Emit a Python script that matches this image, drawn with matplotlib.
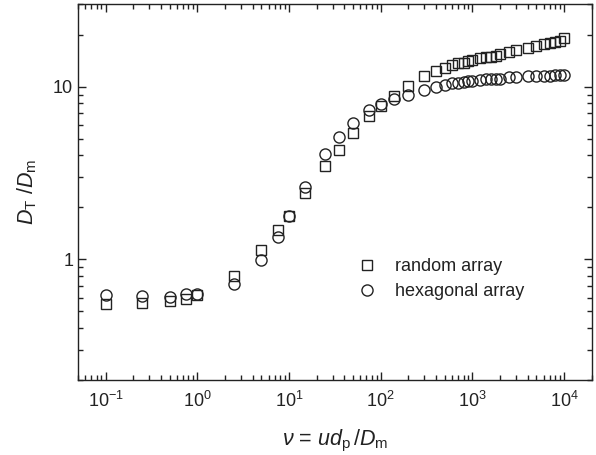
import numpy as np
import matplotlib
matplotlib.use("Agg")
import matplotlib.pyplot as plt
from matplotlib.ticker import LogLocator, NullFormatter

plt.rcParams['font.family'] = ['Liberation Sans', 'DejaVu Sans']
plt.rcParams['mathtext.fontset'] = 'custom'
plt.rcParams['mathtext.rm'] = 'Liberation Sans'
plt.rcParams['mathtext.it'] = 'Liberation Sans:italic'
plt.rcParams['axes.unicode_minus'] = False

# dados
nu = [0.1, 0.25, 0.5, 0.75, 1, 2.5, 5, 7.5, 10, 15,
      25, 35, 50, 75, 100, 140, 200, 300, 400, 500,
      600, 700, 800, 900, 1000, 1200, 1400, 1600, 1800, 2000,
      2500, 3000, 4000, 5000, 6000, 7000, 8000, 9000, 10000]

dt_random = [0.55, 0.56, 0.575, 0.59, 0.625, 0.80, 1.14, 1.48, 1.78, 2.41,
             3.47, 4.3, 5.37, 6.77, 7.73, 8.87, 10.1, 11.5, 12.3, 12.8,
             13.4, 13.7, 13.8, 14.1, 14.3, 14.6, 14.8, 14.9, 15.1, 15.4,
             15.8, 16.3, 16.7, 17.2, 17.6, 18.0, 18.2, 18.5, 19.2]

dt_hexagonal = [0.62, 0.615, 0.607, 0.63, 0.63, 0.72, 0.99, 1.35, 1.78, 2.61,
                4.06, 5.13, 6.18, 7.33, 7.9, 8.48, 8.95, 9.57, 9.93, 10.2,
                10.46, 10.55, 10.65, 10.75, 10.84, 10.94, 11.04, 11.09, 11.14, 11.14,
                11.35, 11.4, 11.5, 11.55, 11.6, 11.6, 11.67, 11.67, 11.7]

cor = '#222222'

fig = plt.figure(figsize=(5.96, 4.55), dpi=100)
ax = fig.add_axes([78 / 596, 1 - 380 / 455, 513.7 / 596, 375.6 / 455])

ax.plot(nu, dt_random, linestyle='none', marker='s', markersize=7,
        markerfacecolor='none', markeredgecolor=cor, markeredgewidth=1.0,
        label='random array')
ax.plot(nu, dt_hexagonal, linestyle='none', marker='o', markersize=8,
        markerfacecolor='none', markeredgecolor=cor, markeredgewidth=1.0,
        label='hexagonal array')

ax.set_xscale('log')
ax.set_yscale('log')
ax.set_xlim(0.05, 2e4)
ax.set_ylim(0.2, 30)

ax.xaxis.set_major_locator(LogLocator(base=10, numticks=20))
ax.xaxis.set_minor_locator(LogLocator(base=10, subs=np.arange(2, 10), numticks=100))
ax.yaxis.set_minor_locator(LogLocator(base=10, subs=np.arange(2, 10), numticks=100))
ax.xaxis.set_minor_formatter(NullFormatter())
ax.yaxis.set_minor_formatter(NullFormatter())
ax.set_yticks([1, 10])
ax.set_yticklabels(['1', '10'])

ax.tick_params(which='both', direction='in', top=True, right=True,
               colors=cor, labelcolor=cor, labelsize=13, width=1.0)
ax.tick_params(which='major', length=6)
ax.tick_params(which='minor', length=3.5)
ax.tick_params(axis='x', pad=8)
for sp in ax.spines.values():
    sp.set_color(cor)
    sp.set_linewidth(1.0)

ax.set_xlabel(r'$\nu$ = $ud_{\rm p}\,$/$D_{\rm m}$', fontsize=15.5, color=cor, labelpad=12)
ax.set_ylabel(r'$D_{\rm T}$ /$D_{\rm m}$', fontsize=15.5, color=cor, labelpad=10)

leg = ax.legend(loc='center left', bbox_to_anchor=(0.53, 0.269), frameon=False,
                fontsize=13, handlelength=1.0, handletextpad=1.1,
                borderaxespad=0, labelspacing=0.45)
for t in leg.get_texts():
    t.set_color(cor)

fig.savefig('out.png', dpi=100)
